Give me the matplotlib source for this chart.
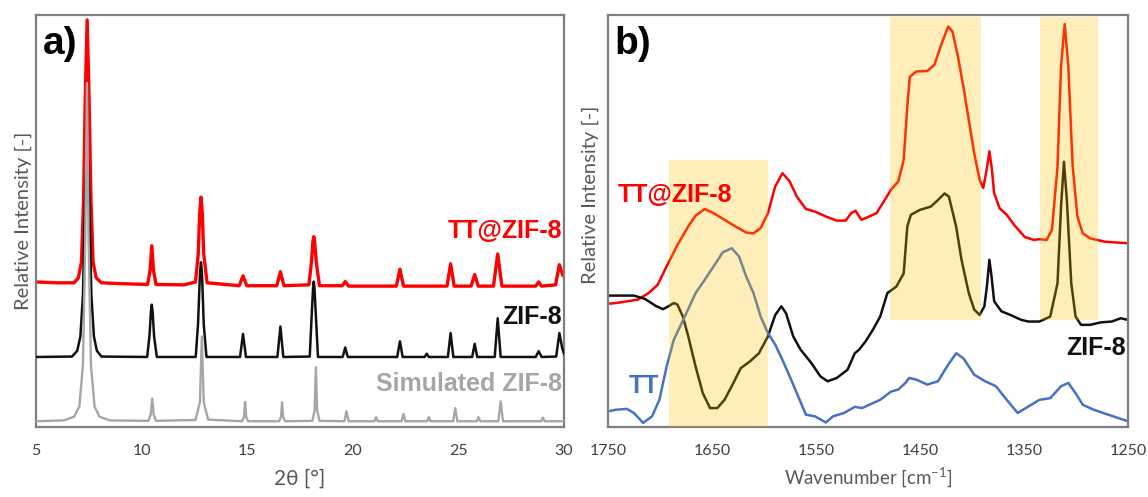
import matplotlib
matplotlib.use("Agg")
import matplotlib.pyplot as plt
from matplotlib.patches import Rectangle

plt.rcParams['font.family'] = ['Lato', 'DejaVu Sans']
plt.rcParams['mathtext.fontset'] = 'custom'
plt.rcParams['mathtext.rm'] = 'Lato'

# ---- a) XRD patterns: (2theta, relative intensity) vertices ----
xrd_tt_zif8 = [
    (5.0, 0.352), (6.0, 0.350), (6.8, 0.350), (7.0, 0.362), (7.15, 0.40), (7.25, 0.55),
    (7.33, 0.80), (7.42, 0.988), (7.51, 0.80), (7.6, 0.55), (7.7, 0.40), (7.85, 0.362),
    (8.1, 0.350), (9.0, 0.348), (10.28, 0.346), (10.4, 0.38), (10.48, 0.44), (10.56, 0.38),
    (10.68, 0.346), (12.0, 0.345), (12.55, 0.352), (12.68, 0.42), (12.75, 0.52),
    (12.81, 0.558), (12.87, 0.52), (12.94, 0.42), (13.1, 0.35), (14.62, 0.343),
    (14.8, 0.367), (14.98, 0.343), (16.4, 0.343), (16.57, 0.377), (16.74, 0.343),
    (17.92, 0.345), (18.04, 0.40), (18.11, 0.45), (18.15, 0.462), (18.19, 0.45),
    (18.27, 0.40), (18.42, 0.343), (19.5, 0.343), (19.64, 0.353), (19.8, 0.342),
    (22.06, 0.342), (22.23, 0.383), (22.4, 0.342), (24.46, 0.342), (24.63, 0.396),
    (24.8, 0.342), (25.6, 0.342), (25.77, 0.37), (25.94, 0.342), (26.66, 0.342),
    (26.86, 0.42), (27.06, 0.342), (28.66, 0.342), (28.8, 0.352), (28.94, 0.342),
    (29.6, 0.345), (29.78, 0.394), (29.93, 0.37), (30.0, 0.365),
]
xrd_zif8 = [
    (5.0, 0.170), (6.7, 0.171), (6.95, 0.185), (7.1, 0.22), (7.22, 0.32), (7.32, 0.55),
    (7.42, 0.69), (7.52, 0.55), (7.62, 0.32), (7.74, 0.22), (7.88, 0.185), (8.1, 0.171),
    (10.26, 0.170), (10.37, 0.22), (10.44, 0.28), (10.48, 0.297), (10.52, 0.28),
    (10.59, 0.22), (10.72, 0.170), (12.56, 0.170), (12.67, 0.25), (12.76, 0.37),
    (12.81, 0.40), (12.86, 0.37), (12.94, 0.25), (13.07, 0.170), (14.66, 0.170),
    (14.8, 0.226), (14.94, 0.170), (16.43, 0.170), (16.57, 0.244), (16.71, 0.170),
    (17.96, 0.171), (18.06, 0.28), (18.12, 0.34), (18.15, 0.353), (18.18, 0.34),
    (18.24, 0.28), (18.35, 0.170), (19.52, 0.170), (19.64, 0.193), (19.76, 0.170),
    (22.1, 0.170), (22.23, 0.208), (22.36, 0.170), (23.4, 0.170), (23.5, 0.178),
    (23.6, 0.170), (24.5, 0.170), (24.63, 0.228), (24.76, 0.170), (25.65, 0.170),
    (25.77, 0.202), (25.89, 0.170), (26.72, 0.170), (26.86, 0.264), (27.0, 0.170),
    (28.66, 0.170), (28.8, 0.184), (28.94, 0.170), (29.63, 0.171), (29.78, 0.228),
    (29.92, 0.19), (30.0, 0.178),
]
xrd_simulated = [
    (5.0, 0.014), (6.3, 0.016), (6.8, 0.025), (7.05, 0.05), (7.22, 0.15), (7.33, 0.45),
    (7.41, 0.835), (7.49, 0.45), (7.6, 0.15), (7.77, 0.05), (8.0, 0.025), (8.5, 0.016),
    (10.32, 0.015), (10.43, 0.03), (10.5, 0.069), (10.57, 0.03), (10.68, 0.015),
    (12.55, 0.017), (12.76, 0.06), (12.85, 0.22), (12.94, 0.06), (13.15, 0.018),
    (14.76, 0.014), (14.85, 0.025), (14.9, 0.061), (14.95, 0.025), (15.04, 0.014),
    (16.51, 0.014), (16.6, 0.025), (16.65, 0.060), (16.7, 0.025), (16.79, 0.014),
    (18.08, 0.015), (18.19, 0.04), (18.25, 0.145), (18.31, 0.04), (18.42, 0.015),
    (19.6, 0.014), (19.7, 0.038), (19.8, 0.014), (21.02, 0.014), (21.1, 0.024),
    (21.18, 0.014), (22.31, 0.014), (22.4, 0.032), (22.49, 0.014), (23.52, 0.014),
    (23.6, 0.024), (23.68, 0.014), (24.75, 0.014), (24.85, 0.046), (24.95, 0.014),
    (25.87, 0.014), (25.95, 0.024), (26.03, 0.014), (26.89, 0.014), (27.0, 0.062),
    (27.11, 0.014), (28.92, 0.014), (29.0, 0.023), (29.08, 0.014), (30.0, 0.014),
]

# ---- b) IR spectra: (wavenumber, relative intensity) vertices ----
ir_tt_zif8 = [
    (1750, 0.299), (1742.3, 0.301), (1731.9, 0.305), (1721.5, 0.309), (1711.0, 0.325),
    (1702.3, 0.345), (1693.6, 0.390), (1683.2, 0.442), (1672.8, 0.487), (1665.8, 0.513),
    (1657.1, 0.529), (1648.4, 0.519), (1638.0, 0.503), (1627.5, 0.487), (1617.1, 0.472),
    (1610.1, 0.470), (1603.2, 0.483), (1596.2, 0.519), (1589.2, 0.584), (1582.3, 0.616),
    (1575.3, 0.596), (1568.4, 0.559), (1559.7, 0.529), (1551.0, 0.523), (1540.5, 0.511),
    (1530.1, 0.501), (1521.4, 0.501), (1516.2, 0.519), (1512.0, 0.525), (1506.4, 0.503),
    (1498.8, 0.511), (1491.8, 0.519), (1484.9, 0.547), (1477.9, 0.576), (1470.9, 0.596),
    (1465.7, 0.648), (1462.2, 0.778), (1459.8, 0.850), (1453.5, 0.863), (1443.1, 0.864),
    (1436.2, 0.879), (1429.2, 0.931), (1422.9, 0.972), (1418.8, 0.960), (1413.5, 0.899),
    (1408.3, 0.826), (1403.1, 0.745), (1397.9, 0.665), (1392.7, 0.600), (1389.2, 0.580),
    (1385.7, 0.628), (1383.3, 0.669), (1381.2, 0.632), (1378.7, 0.568), (1373.5, 0.531),
    (1366.6, 0.515), (1359.6, 0.491), (1349.2, 0.461), (1340.5, 0.454), (1335.2, 0.456),
    (1328.3, 0.454), (1323.1, 0.479), (1317.8, 0.632), (1314.4, 0.875), (1310.9, 0.978),
    (1307.4, 0.875), (1303.2, 0.632), (1298.7, 0.511), (1293.5, 0.470), (1286.5, 0.458),
    (1272.6, 0.450), (1262.2, 0.448), (1250, 0.446),
]
ir_zif8 = [
    (1750, 0.319), (1738.9, 0.319), (1725.0, 0.319), (1714.5, 0.311), (1704.1, 0.294),
    (1697.1, 0.286), (1691.9, 0.293), (1686.7, 0.301), (1683.2, 0.297), (1678.0, 0.268),
    (1672.8, 0.220), (1665.8, 0.147), (1658.8, 0.082), (1651.9, 0.046), (1644.9, 0.046),
    (1638.0, 0.066), (1631.0, 0.099), (1622.3, 0.143), (1613.6, 0.159), (1604.9, 0.179),
    (1596.2, 0.220), (1589.2, 0.272), (1583.3, 0.293), (1578.8, 0.276), (1571.9, 0.220),
    (1564.9, 0.188), (1554.4, 0.155), (1545.8, 0.123), (1538.8, 0.111), (1530.1, 0.119),
    (1519.7, 0.139), (1512.7, 0.179), (1508.5, 0.188), (1502.3, 0.208), (1495.3, 0.236),
    (1488.3, 0.268), (1481.4, 0.325), (1472.7, 0.341), (1465.7, 0.373), (1462.2, 0.487),
    (1458.8, 0.515), (1450.1, 0.527), (1439.6, 0.535), (1432.7, 0.551), (1426.4, 0.567),
    (1422.2, 0.559), (1415.3, 0.487), (1410.1, 0.406), (1403.1, 0.325), (1397.9, 0.285),
    (1392.7, 0.272), (1388.1, 0.293), (1385.7, 0.341), (1383.3, 0.406), (1381.2, 0.365),
    (1378.7, 0.305), (1371.8, 0.281), (1363.1, 0.272), (1352.6, 0.260), (1345.7, 0.256),
    (1335.2, 0.256), (1324.8, 0.268), (1317.8, 0.349), (1314.4, 0.535), (1311.6, 0.644),
    (1308.8, 0.551), (1304.6, 0.349), (1300.4, 0.268), (1295.2, 0.248), (1286.5, 0.248),
    (1276.1, 0.254), (1265.7, 0.256), (1257.0, 0.264), (1250, 0.260),
]
ir_tt = [
    (1750, 0.038), (1742.3, 0.042), (1731.9, 0.044), (1725.0, 0.034), (1716.2, 0.010),
    (1707.6, 0.026), (1700.6, 0.066), (1693.6, 0.147), (1686.7, 0.212), (1676.2, 0.268),
    (1665.8, 0.325), (1657.1, 0.357), (1648.4, 0.390), (1639.7, 0.424), (1631.0, 0.434),
    (1624.0, 0.414), (1617.1, 0.365), (1610.1, 0.325), (1603.2, 0.268), (1596.2, 0.228),
    (1589.2, 0.200), (1582.3, 0.163), (1575.3, 0.123), (1568.4, 0.082), (1559.7, 0.030),
    (1551.0, 0.026), (1540.5, 0.011), (1533.6, 0.026), (1523.1, 0.034), (1512.7, 0.049),
    (1505.7, 0.046), (1498.8, 0.054), (1488.3, 0.066), (1477.9, 0.086), (1470.9, 0.091),
    (1464.0, 0.107), (1460.5, 0.119), (1453.5, 0.115), (1443.1, 0.103), (1432.7, 0.111),
    (1424.0, 0.147), (1415.3, 0.179), (1408.3, 0.167), (1397.9, 0.127), (1387.4, 0.111),
    (1377.0, 0.099), (1366.6, 0.066), (1356.1, 0.034), (1345.7, 0.050), (1335.2, 0.066),
    (1324.8, 0.070), (1314.4, 0.099), (1307.4, 0.107), (1300.4, 0.082), (1293.5, 0.054),
    (1283.0, 0.042), (1269.1, 0.030), (1250, 0.014),
]

# highlighted IR bands: (high wavenumber, low wavenumber, bottom, top)
ir_bands = [(1691.5, 1596.0, 0.0, 0.648), (1478.6, 1391.0, 0.259, 0.994),
            (1335.0, 1278.5, 0.259, 0.994)]

frame_col = '#7f7f7f'
tick_col = '#404040'
label_col = '#595959'
red = '#ff0000'
blue = '#4472c4'
gray = '#a6a6a6'


def style_axes(ax):
    for s in ax.spines.values():
        s.set_color(frame_col)
        s.set_linewidth(1.6)
    ax.set_yticks([])
    ax.tick_params(axis='x', length=0, pad=12, labelsize=11.5, labelcolor=tick_col)


def draw(ax, pts, **kw):
    xs = [p[0] for p in pts]
    ys = [p[1] for p in pts]
    ax.plot(xs, ys, solid_joinstyle='round', **kw)


fig = plt.figure(figsize=(11.48, 4.97), dpi=100)
axa = fig.add_axes([0.0314, 0.1408, 0.4599, 0.829])
axb = fig.add_axes([0.5296, 0.1408, 0.4530, 0.829])

# panel a
draw(axa, xrd_tt_zif8, color=red, lw=2.4, zorder=2)
draw(axa, xrd_zif8, color='#111111', lw=1.8, zorder=3)
draw(axa, xrd_simulated, color=gray, lw=1.7, zorder=4)
axa.set_xlim(5, 30)
axa.set_ylim(0, 1)
axa.set_xticks([5, 10, 15, 20, 25, 30])
style_axes(axa)
axa.set_xlabel('2θ [°]', fontsize=15, color=label_col, labelpad=8)
axa.set_ylabel('Relative Intensity [-]', fontsize=14.5, color=label_col, labelpad=3)
axa.text(29.9, 0.475, 'TT@ZIF-8', color=red, fontsize=18, fontweight='bold',
         family='Liberation Sans', ha='right', va='center')
axa.text(29.9, 0.267, 'ZIF-8', color='#111111', fontsize=18, fontweight='bold',
         family='Liberation Sans', ha='right', va='center')
axa.text(29.9, 0.105, 'Simulated ZIF-8', color=gray, fontsize=18, fontweight='bold',
         family='Liberation Sans', ha='right', va='center')
axa.text(0.012, 0.93, 'a)', transform=axa.transAxes, fontsize=28, fontweight='bold',
         family='Liberation Sans', ha='left', va='center')

# panel b
draw(axb, ir_tt_zif8, color=red, lw=1.8, zorder=2)
draw(axb, ir_zif8, color='#111111', lw=1.8, zorder=2)
draw(axb, ir_tt, color=blue, lw=1.8, zorder=2)
for hi, lo, b, t in ir_bands:
    axb.add_patch(Rectangle((lo, b), hi - lo, t - b, facecolor='#ffc000',
                            alpha=0.27, edgecolor='none', zorder=3))
axb.set_xlim(1750, 1250)
axb.set_ylim(0, 1)
axb.set_xticks([1750, 1650, 1550, 1450, 1350, 1250])
style_axes(axb)
axb.set_xlabel('Wavenumber [cm$^{-1}$]', fontsize=13.5, color=label_col, labelpad=6)
axb.set_ylabel('Relative Intensity [-]', fontsize=14.5, color=label_col, labelpad=3)
axb.yaxis.set_label_coords(-0.017, 0.563)
axb.text(1740.6, 0.563, 'TT@ZIF-8', color=red, fontsize=18, fontweight='bold',
         family='Liberation Sans', ha='left', va='center', zorder=5)
axb.text(1252.4, 0.192, 'ZIF-8', color='#111111', fontsize=18, fontweight='bold',
         family='Liberation Sans', ha='right', va='center', zorder=5)
axb.text(1730.2, 0.099, 'TT', color=blue, fontsize=18, fontweight='bold',
         family='Liberation Sans', ha='left', va='center', zorder=5)
axb.text(0.012, 0.93, 'b)', transform=axb.transAxes, fontsize=28, fontweight='bold',
         family='Liberation Sans', ha='left', va='center')

fig.savefig('out.png', dpi=100)
